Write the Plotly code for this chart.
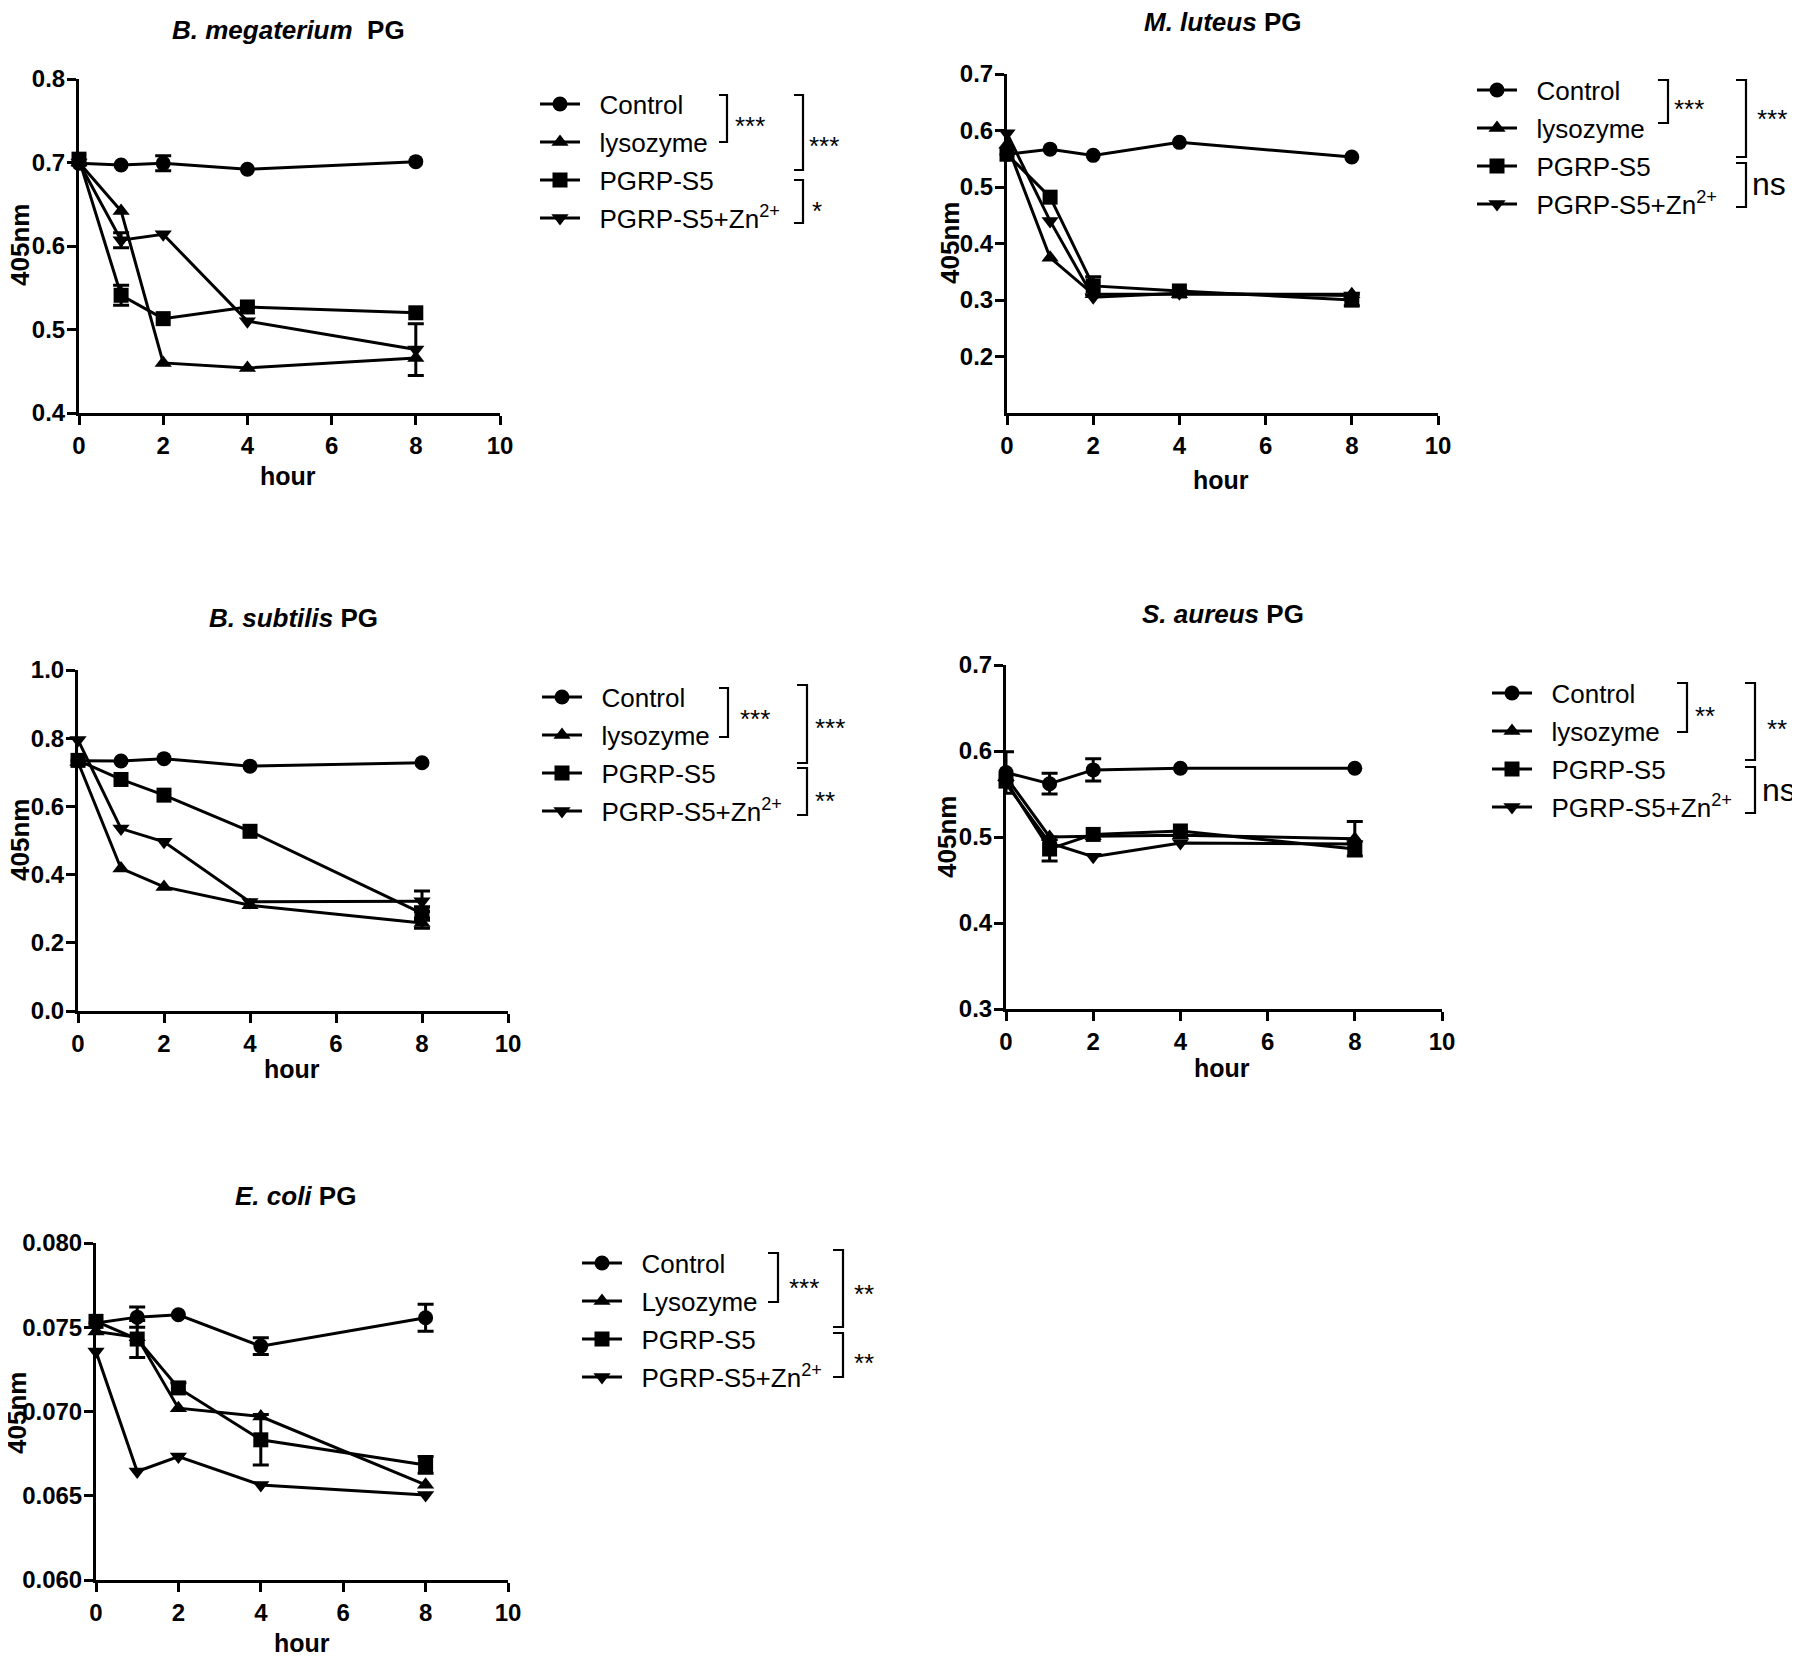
import plotly.graph_objects as go

W, H = 1800, 1661
PAGE_OFFSET = 8  # the page body adds an 8px margin around the figure

hours = [0, 1, 2, 4, 8]
x_ticks = [0, 2, 4, 6, 8, 10]
symbols = ["circle", "triangle-up", "square", "triangle-down"]

# ---------------- data ----------------
# B. megaterium PG
bmeg_names = ["Control", "lysozyme", "PGRP-S5", "PGRP-S5+Zn<sup>2+</sup>"]
bmeg_control = [0.699, 0.697, 0.699, 0.692, 0.701]
bmeg_lysozyme = [0.700, 0.642, 0.460, 0.454, 0.466]
bmeg_pgrp = [0.704, 0.541, 0.513, 0.527, 0.520]
bmeg_pgrp_zn = [0.700, 0.607, 0.614, 0.510, 0.476]
bmeg_control_err = [0, 0, 0.009, 0, 0]
bmeg_lysozyme_err = [0, 0, 0, 0, 0]
bmeg_pgrp_err = [0, 0.012, 0, 0, 0]
bmeg_pgrp_zn_err = [0, 0.009, 0, 0, 0.031]
bmeg_yticks = [0.4, 0.5, 0.6, 0.7, 0.8]

# M. luteus PG
mlut_names = ["Control", "lysozyme", "PGRP-S5", "PGRP-S5+Zn<sup>2+</sup>"]
mlut_control = [0.558, 0.567, 0.556, 0.579, 0.553]
mlut_lysozyme = [0.575, 0.375, 0.310, 0.310, 0.310]
mlut_pgrp = [0.558, 0.482, 0.325, 0.316, 0.300]
mlut_pgrp_zn = [0.595, 0.440, 0.305, 0.312, 0.308]
mlut_control_err = [0, 0, 0, 0, 0]
mlut_lysozyme_err = [0, 0, 0, 0, 0]
mlut_pgrp_err = [0, 0, 0.016, 0, 0.010]
mlut_pgrp_zn_err = [0, 0, 0, 0, 0]
mlut_yticks = [0.2, 0.3, 0.4, 0.5, 0.6, 0.7]

# B. subtilis PG
bsub_names = ["Control", "lysozyme", "PGRP-S5", "PGRP-S5+Zn<sup>2+</sup>"]
bsub_control = [0.734, 0.733, 0.740, 0.718, 0.728]
bsub_lysozyme = [0.730, 0.418, 0.364, 0.310, 0.258]
bsub_pgrp = [0.735, 0.679, 0.633, 0.527, 0.286]
bsub_pgrp_zn = [0.795, 0.535, 0.496, 0.320, 0.322]
bsub_control_err = [0, 0, 0, 0, 0]
bsub_lysozyme_err = [0, 0, 0, 0, 0.015]
bsub_pgrp_err = [0, 0, 0, 0, 0.020]
bsub_pgrp_zn_err = [0, 0, 0, 0, 0.030]
bsub_yticks = [0.0, 0.2, 0.4, 0.6, 0.8, 1.0]

# S. aureus PG
saur_names = ["Control", "lysozyme", "PGRP-S5", "PGRP-S5+Zn<sup>2+</sup>"]
saur_control = [0.575, 0.562, 0.578, 0.580, 0.580]
saur_lysozyme = [0.570, 0.500, 0.501, 0.502, 0.498]
saur_pgrp = [0.565, 0.486, 0.503, 0.507, 0.486]
saur_pgrp_zn = [0.562, 0.493, 0.477, 0.493, 0.492]
saur_control_err = [0.024, 0.012, 0.013, 0, 0]
saur_lysozyme_err = [0, 0, 0, 0, 0.020]
saur_pgrp_err = [0, 0.014, 0, 0, 0]
saur_pgrp_zn_err = [0, 0, 0, 0, 0]
saur_yticks = [0.3, 0.4, 0.5, 0.6, 0.7]

# E. coli PG
ecol_names = ["Control", "Lysozyme", "PGRP-S5", "PGRP-S5+Zn<sup>2+</sup>"]
ecol_control = [0.07525, 0.07560, 0.07574, 0.07388, 0.07556]
ecol_lysozyme = [0.07475, 0.07440, 0.07020, 0.06970, 0.06565]
ecol_pgrp = [0.07535, 0.07430, 0.07140, 0.06832, 0.06683]
ecol_pgrp_zn = [0.07356, 0.06644, 0.06733, 0.06564, 0.06505]
ecol_control_err = [0, 0.0006, 0, 0.0005, 0.0008]
ecol_lysozyme_err = [0, 0, 0, 0, 0]
ecol_pgrp_err = [0, 0.0011, 0.0003, 0.0015, 0.0005]
ecol_pgrp_zn_err = [0, 0, 0, 0, 0]
ecol_yticks = [0.060, 0.065, 0.070, 0.075, 0.080]

# ---------------- layout helpers ----------------
def fx(p):
    return (p - PAGE_OFFSET) / W

def fy(p):
    return 1 - (p - PAGE_OFFSET) / H

TICK_FONT = dict(family="Liberation Sans, Arial", size=24, color="black", weight="bold")
LEG_FONT = dict(family="Liberation Sans, Arial", size=26, color="black")
PAD = "\u00a0\u00a0"

panels = [
    dict(title="<b><i>B. megaterium</i>  PG</b>",
         series=[bmeg_control, bmeg_lysozyme, bmeg_pgrp, bmeg_pgrp_zn],
         errs=[bmeg_control_err, bmeg_lysozyme_err, bmeg_pgrp_err, bmeg_pgrp_zn_err],
         names=bmeg_names, yticks=bmeg_yticks, yrange=[0.4, 0.8], fmt=".1f",
         xdom=(79, 500), ydom=(79, 413), title_pos=(288, 30), hour_pos=(288, 476), ylab_pos=(20, 245),
         legend_pos=(535, 80.6),
         brackets=[(727, 95, 142, 8), (803, 95, 170, 9), (803, 180, 223, 9)],
         marks=[("***", 733, 120), ("***", 807, 140), ("*", 810, 205)]),
    dict(title="<b><i>M. luteus</i> PG</b>",
         series=[mlut_control, mlut_lysozyme, mlut_pgrp, mlut_pgrp_zn],
         errs=[mlut_control_err, mlut_lysozyme_err, mlut_pgrp_err, mlut_pgrp_zn_err],
         names=mlut_names, yticks=mlut_yticks, yrange=[0.1, 0.7], fmt=".1f",
         xdom=(1007, 1438), ydom=(74, 413), title_pos=(1222, 22), hour_pos=(1221, 480), ylab_pos=(950, 243),
         legend_pos=(1472, 66.6),
         brackets=[(1668, 80, 123, 10), (1746, 80, 157, 10), (1746, 163, 207, 10)],
         marks=[("***", 1672, 103), ("***", 1755, 113), ("ns", 1750, 187)]),
    dict(title="<b><i>B. subtilis</i> PG</b>",
         series=[bsub_control, bsub_lysozyme, bsub_pgrp, bsub_pgrp_zn],
         errs=[bsub_control_err, bsub_lysozyme_err, bsub_pgrp_err, bsub_pgrp_zn_err],
         names=bsub_names, yticks=bsub_yticks, yrange=[0.0, 1.0], fmt=".1f",
         xdom=(78, 508), ydom=(670, 1011), title_pos=(293, 618), hour_pos=(292, 1069), ylab_pos=(20, 840),
         legend_pos=(537, 673.6),
         brackets=[(728, 688, 737, 9), (807, 685, 763, 10), (807, 768, 815, 10)],
         marks=[("***", 738, 713), ("***", 813, 722), ("**", 813, 795)]),
    dict(title="<b><i>S. aureus</i> PG</b>",
         series=[saur_control, saur_lysozyme, saur_pgrp, saur_pgrp_zn],
         errs=[saur_control_err, saur_lysozyme_err, saur_pgrp_err, saur_pgrp_zn_err],
         names=saur_names, yticks=saur_yticks, yrange=[0.3, 0.7], fmt=".1f",
         xdom=(1006, 1442), ydom=(665, 1009), title_pos=(1223, 614), hour_pos=(1222, 1068), ylab_pos=(947, 837),
         legend_pos=(1487, 669.6),
         brackets=[(1687, 683, 732, 10), (1755, 683, 760, 10), (1755, 767, 813, 10)],
         marks=[("**", 1693, 710), ("**", 1765, 723), ("ns", 1760, 793)]),
    dict(title="<b><i>E. coli</i> PG</b>",
         series=[ecol_control, ecol_lysozyme, ecol_pgrp, ecol_pgrp_zn],
         errs=[ecol_control_err, ecol_lysozyme_err, ecol_pgrp_err, ecol_pgrp_zn_err],
         names=ecol_names, yticks=ecol_yticks, yrange=[0.060, 0.080], fmt=".3f",
         xdom=(96, 508), ydom=(1243, 1580), title_pos=(295, 1196), hour_pos=(302, 1643), ylab_pos=(17, 1413),
         legend_pos=(577, 1239.6),
         brackets=[(778, 1253, 1302, 10), (843, 1250, 1327, 10), (843, 1333, 1377, 10)],
         marks=[("***", 787, 1282), ("**", 852, 1288), ("**", 852, 1357)]),
]

fig = go.Figure()
layout = dict(width=W, height=H, margin=dict(l=0, r=0, t=0, b=0, pad=0, autoexpand=False),
              paper_bgcolor="white", plot_bgcolor="white", showlegend=True)
annotations = []
shapes = []

for i, p in enumerate(panels, start=1):
    sfx = "" if i == 1 else str(i)
    xa, ya = "x" + sfx, "y" + sfx
    lg = "legend" + sfx
    for j, (vals, errs, name, sym) in enumerate(zip(p["series"], p["errs"], p["names"], symbols)):
        fig.add_trace(go.Scatter(
            x=hours, y=vals, mode="lines+markers", name=PAD + name,
            xaxis=xa, yaxis=ya, legend=lg, legendgroup=f"p{i}s{j}",
            line=dict(color="black", width=3),
            marker=dict(symbol=sym, size=15, color="black"),
            cliponaxis=False, hoverinfo="x+y"))
        ex = [h for h, e in zip(hours, errs) if e > 0]
        if ex:
            ey = [v for v, e in zip(vals, errs) if e > 0]
            ee = [e for e in errs if e > 0]
            fig.add_trace(go.Scatter(
                x=ex, y=ey, mode="markers", showlegend=False,
                xaxis=xa, yaxis=ya, marker=dict(size=1, color="black"),
                error_y=dict(type="data", array=ee, symmetric=True, color="black", thickness=3, width=8),
                cliponaxis=False, hoverinfo="skip"))

    axis_common = dict(showline=True, linecolor="black", linewidth=3, ticks="outside", ticklen=9,
                       tickwidth=3, tickcolor="black", showgrid=False, zeroline=False,
                       tickfont=TICK_FONT, fixedrange=True, automargin=False)
    layout["xaxis" + sfx] = dict(axis_common, domain=[fx(p["xdom"][0]), fx(p["xdom"][1])],
                                 range=[0, 10], tickvals=x_ticks, anchor=ya)
    layout["yaxis" + sfx] = dict(axis_common, domain=[fy(p["ydom"][1]), fy(p["ydom"][0])],
                                 range=p["yrange"], tickvals=p["yticks"], tickformat=p["fmt"], anchor=xa,
                                 ticklabelstandoff=-3)
    layout[lg] = dict(x=fx(p["legend_pos"][0]), y=fy(p["legend_pos"][1]), xanchor="left", yanchor="top",
                      bgcolor="rgba(0,0,0,0)", borderwidth=0, font=LEG_FONT, itemwidth=40,
                      tracegroupgap=1.2, traceorder="grouped")

    annotations.append(dict(text=p["title"], x=fx(p["title_pos"][0]), y=fy(p["title_pos"][1]),
                            xref="paper", yref="paper", showarrow=False, xanchor="center", yanchor="middle",
                            font=dict(family="Liberation Sans, Arial", size=26, color="black")))
    annotations.append(dict(text="<b>hour</b>", x=fx(p["hour_pos"][0]), y=fy(p["hour_pos"][1]),
                            xref="paper", yref="paper", showarrow=False, xanchor="center", yanchor="middle",
                            font=dict(family="Liberation Sans, Arial", size=25, color="black")))
    annotations.append(dict(text="<b>405nm</b>", x=fx(p["ylab_pos"][0]), y=fy(p["ylab_pos"][1]),
                            xref="paper", yref="paper", showarrow=False, xanchor="center", yanchor="middle",
                            textangle=-90,
                            font=dict(family="Liberation Sans, Arial", size=26, color="black")))
    for (bx, by0, by1, tick) in p["brackets"]:
        path = (f"M {fx(bx - tick)},{fy(by0)} L {fx(bx)},{fy(by0)} "
                f"L {fx(bx)},{fy(by1)} L {fx(bx - tick)},{fy(by1)}")
        shapes.append(dict(type="path", path=path, xref="paper", yref="paper",
                           line=dict(color="black", width=2.2)))
    for (txt, mx, my) in p["marks"]:
        if txt == "ns":
            size, yy = 32, my - 3
        else:
            size, yy = 26, my + 6
        annotations.append(dict(text=txt, x=fx(mx), y=fy(yy), xref="paper", yref="paper",
                                showarrow=False, xanchor="left", yanchor="middle",
                                font=dict(family="Liberation Sans, Arial", size=size, color="black")))

layout["annotations"] = annotations
layout["shapes"] = shapes
fig.update_layout(**layout)
fig.write_html("out.html")
